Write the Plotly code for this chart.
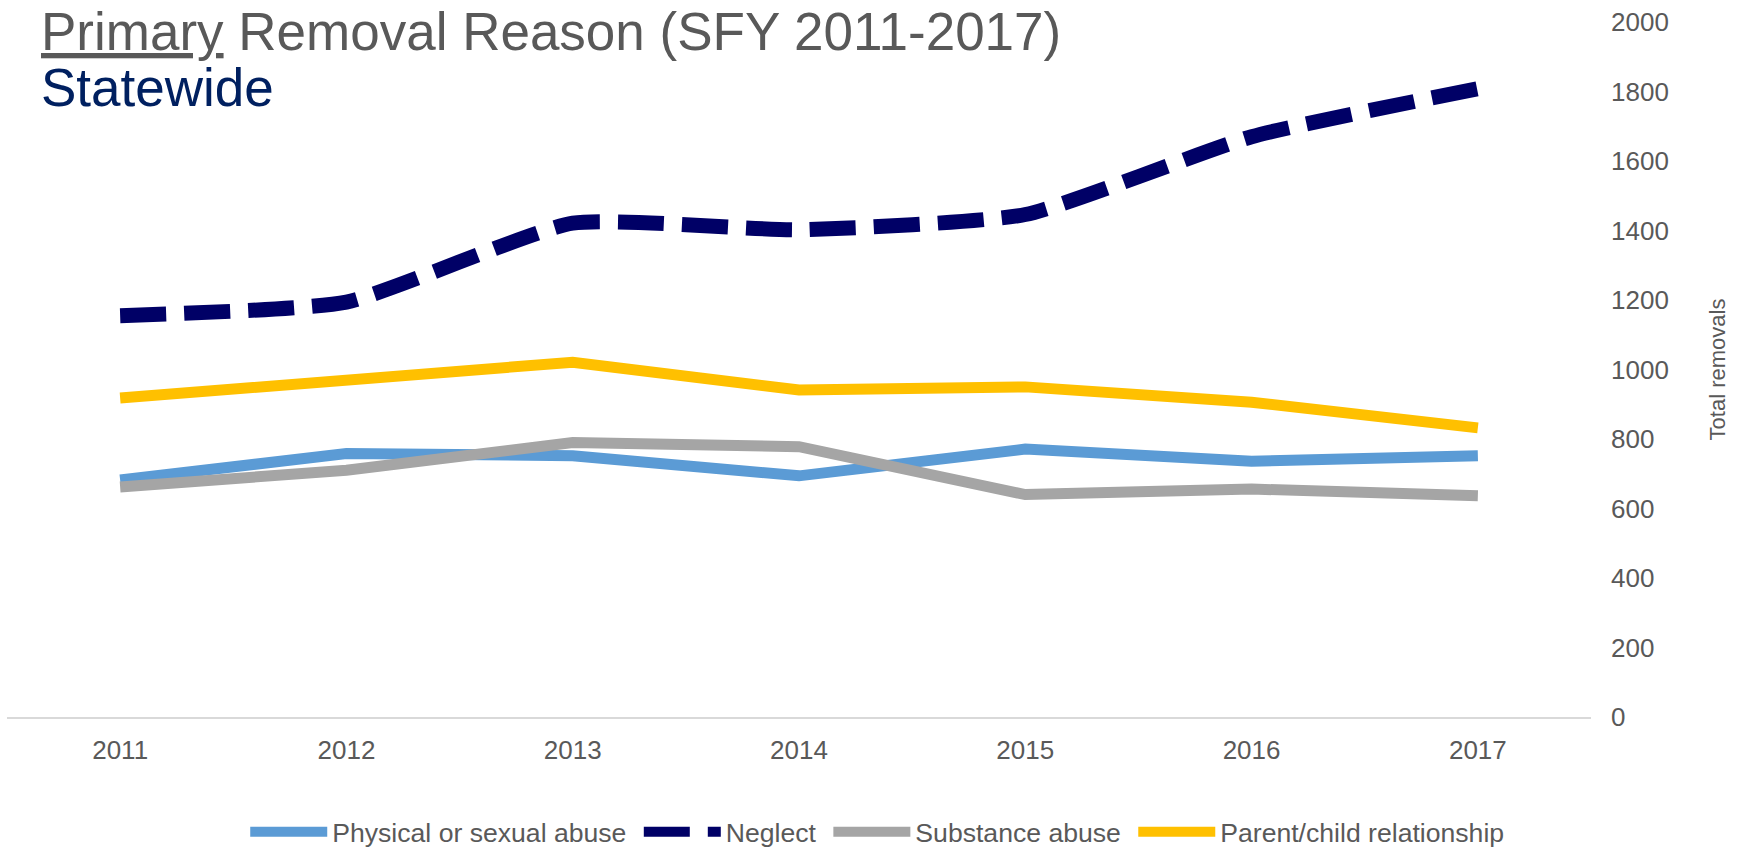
import plotly.graph_objects as go

years = ["2011", "2012", "2013", "2014", "2015", "2016", "2017"]
physical = [682, 758, 752, 694, 771, 736, 752]
neglect = [1155, 1194, 1421, 1402, 1446, 1670, 1808]
substance = [662, 710, 790, 778, 640, 656, 637]
parent_child = [918, 973, 1021, 941, 950, 906, 832]
y_ticks = [0, 200, 400, 600, 800, 1000, 1200, 1400, 1600, 1800, 2000]

GREY = "#595959"
FONT = "Liberation Sans, Arial, sans-serif"
PAD = "\u00a0"  # a little extra room between legend entries

fig = go.Figure()
fig.add_trace(go.Scatter(x=years, y=physical, name="Physical or sexual abuse" + PAD, mode="lines",
                         line=dict(color="#5B9BD5", width=11)))
fig.add_trace(go.Scatter(x=years, y=neglect, name="Neglect" + PAD, mode="lines",
                         line=dict(color="#000066", width=15, dash="46px,18px",
                                   shape="spline", smoothing=0.5)))
fig.add_trace(go.Scatter(x=years, y=substance, name="Substance abuse" + PAD, mode="lines",
                         line=dict(color="#A5A5A5", width=11)))
fig.add_trace(go.Scatter(x=years, y=parent_child, name="Parent/child relationship", mode="lines",
                         line=dict(color="#FFC000", width=11)))

fig.update_layout(
    width=1744, height=849,
    margin=dict(l=7, r=153, t=22, b=132, autoexpand=False),
    plot_bgcolor="white", paper_bgcolor="white",
    font=dict(family=FONT, color=GREY, size=26),
    showlegend=True,
    legend=dict(orientation="h", xref="container", yref="container", x=0.503, xanchor="center",
                y=0.02, yanchor="middle", itemwidth=77,
                font=dict(size=26.6, color=GREY), tracegroupgap=0),
    xaxis=dict(type="category", range=[-0.5, 6.5], showgrid=False, showline=True,
               linecolor="#D9D9D9", linewidth=2, ticks="", automargin=False,
               tickfont=dict(size=26, color=GREY), ticklabelstandoff=9),
    yaxis=dict(side="right", range=[0, 2000], tickvals=y_ticks, showgrid=False,
               zeroline=False, showline=False, ticks="", automargin=False,
               tickfont=dict(size=26, color=GREY), ticklabelstandoff=19,
               title=dict(text="Total removals", font=dict(size=22, color=GREY), standoff=41)),
    annotations=[
        dict(text="<u>Primary</u> Removal Reason (SFY 2011-2017)", xref="paper", yref="paper",
             x=0.0203, y=1.031, xanchor="left", yanchor="top", showarrow=False,
             font=dict(size=53, color=GREY, family=FONT)),
        dict(text="Statewide", xref="paper", yref="paper",
             x=0.0203, y=0.951, xanchor="left", yanchor="top", showarrow=False,
             font=dict(size=53, color="#002060", family=FONT)),
    ],
)

fig.write_html("out.html", config={"displayModeBar": False},
               post_script="document.body.style.margin = '0';")
